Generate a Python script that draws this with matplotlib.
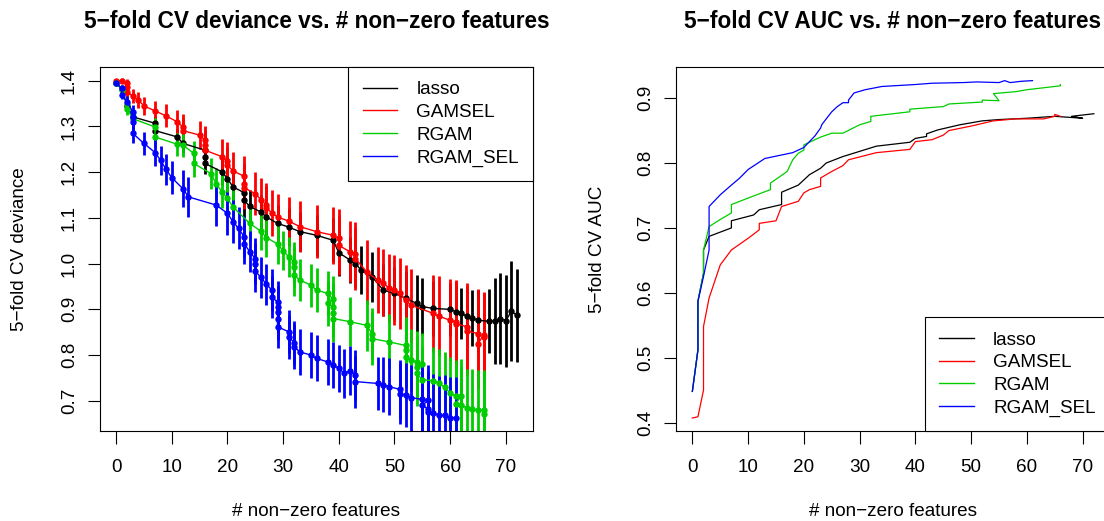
import matplotlib
matplotlib.use("Agg")
import matplotlib.pyplot as plt
from matplotlib.lines import Line2D

plt.rcParams['font.family'] = ['Liberation Sans', 'DejaVu Sans']

methods = ["lasso", "GAMSEL", "RGAM", "RGAM_SEL"]
colors = ["black", "#FF0000", "#00CD00", "#0000FF"]

# ---- 5-fold CV deviance (mean and sd) along the lambda path ----
lasso_nz = [0, 1, 2, 3, 7, 7, 11, 12, 16, 16, 16, 19, 20, 21, 23, 23, 24, 26, 27, 29,
            31, 33, 36, 39, 40, 42, 43, 44, 46, 48, 50, 52, 54, 55, 57, 60, 61, 62, 63,
            64, 65, 67, 68, 69, 70, 71, 72]
lasso_dev = [1.396, 1.382, 1.345, 1.321, 1.307, 1.291, 1.277, 1.263, 1.248, 1.234, 1.219,
             1.201, 1.186, 1.168, 1.155, 1.139, 1.125, 1.113, 1.102, 1.088, 1.080, 1.070,
             1.062, 1.051, 1.024, 1.008, 1.000, 0.986, 0.971, 0.942, 0.935, 0.924, 0.913,
             0.906, 0.902, 0.900, 0.895, 0.891, 0.885, 0.881, 0.876, 0.874, 0.875, 0.880,
             0.875, 0.896, 0.887]
lasso_sd = [0.004, 0.006, 0.010, 0.012, 0.015, 0.015, 0.018, 0.020, 0.022, 0.022, 0.023,
            0.030, 0.033, 0.034, 0.035, 0.036, 0.037, 0.038, 0.039, 0.040, 0.041, 0.042,
            0.045, 0.048, 0.050, 0.051, 0.052, 0.053, 0.055, 0.057, 0.058, 0.060, 0.062,
            0.063, 0.060, 0.058, 0.056, 0.055, 0.058, 0.062, 0.066, 0.070, 0.094, 0.100,
            0.100, 0.110, 0.102]

gamsel_nz = [0, 1, 2, 2, 2, 3, 4, 5, 7, 9, 11, 12, 12, 15, 16, 16, 16, 19, 20, 20, 21, 23,
             23, 23, 25, 26, 27, 27, 28, 29, 31, 33, 36, 39, 40, 40, 42, 43, 43, 45, 47,
             48, 49, 50, 51, 52, 53, 57, 58, 60, 61, 61, 63, 63, 65, 65, 66, 66]
gamsel_dev = [1.400, 1.400, 1.396, 1.387, 1.376, 1.366, 1.358, 1.345, 1.334, 1.323, 1.310,
              1.299, 1.291, 1.281, 1.270, 1.259, 1.248, 1.234, 1.225, 1.215, 1.203, 1.191,
              1.175, 1.166, 1.153, 1.140, 1.128, 1.121, 1.111, 1.102, 1.093, 1.081, 1.070,
              1.062, 1.055, 1.040, 1.026, 1.022, 1.011, 0.982, 0.964, 0.958, 0.946, 0.942,
              0.935, 0.920, 0.909, 0.891, 0.885, 0.876, 0.873, 0.869, 0.862, 0.853, 0.847,
              0.825, 0.844, 0.840]
gamsel_sd = [0.004, 0.005, 0.008, 0.010, 0.012, 0.015, 0.018, 0.020, 0.022, 0.025, 0.027,
             0.028, 0.028, 0.030, 0.032, 0.033, 0.034, 0.038, 0.040, 0.041, 0.042, 0.044,
             0.045, 0.046, 0.047, 0.048, 0.049, 0.049, 0.050, 0.051, 0.053, 0.055, 0.058,
             0.062, 0.064, 0.065, 0.067, 0.068, 0.068, 0.070, 0.072, 0.073, 0.074, 0.076,
             0.077, 0.078, 0.080, 0.085, 0.087, 0.090, 0.092, 0.093, 0.095, 0.097, 0.098,
             0.100, 0.095, 0.095]

rgam_nz = [0, 1, 2, 2, 3, 7, 7, 11, 12, 14, 14, 17, 18, 19, 20, 21, 24, 26, 27, 29, 30, 31,
           32, 32, 32, 33, 35, 36, 38, 39, 38, 39, 39, 39, 42, 45, 46, 46, 49, 52, 52, 52,
           53, 54, 55, 54, 54, 55, 57, 58, 59, 60, 61, 62, 61, 62, 63, 64, 65, 66, 66]
rgam_dev = [1.396, 1.380, 1.350, 1.339, 1.317, 1.299, 1.277, 1.261, 1.259, 1.241, 1.219,
            1.197, 1.175, 1.157, 1.143, 1.124, 1.088, 1.071, 1.057, 1.043, 1.028, 1.015,
            1.004, 0.993, 0.975, 0.964, 0.953, 0.942, 0.935, 0.922, 0.913, 0.906, 0.891,
            0.880, 0.873, 0.865, 0.847, 0.836, 0.829, 0.821, 0.811, 0.796, 0.789, 0.785,
            0.780, 0.774, 0.760, 0.746, 0.744, 0.738, 0.730, 0.717, 0.710, 0.710, 0.694,
            0.690, 0.685, 0.683, 0.679, 0.679, 0.672]
rgam_sd = [0.004, 0.008, 0.012, 0.013, 0.015, 0.020, 0.022, 0.025, 0.026, 0.028, 0.030,
           0.033, 0.035, 0.036, 0.037, 0.038, 0.040, 0.041, 0.042, 0.043, 0.043, 0.044,
           0.044, 0.045, 0.045, 0.046, 0.047, 0.048, 0.049, 0.050, 0.050, 0.051, 0.051,
           0.052, 0.053, 0.055, 0.057, 0.058, 0.060, 0.063, 0.064, 0.065, 0.067, 0.068,
           0.069, 0.070, 0.071, 0.072, 0.074, 0.075, 0.077, 0.079, 0.080, 0.081, 0.082,
           0.083, 0.085, 0.086, 0.088, 0.089, 0.090]

rgamsel_nz = [0, 1, 1, 2, 3, 3, 3, 3, 5, 7, 8, 9, 10, 12, 13, 18, 20, 21, 22, 23, 23, 24,
              25, 25, 25, 26, 27, 28, 28, 29, 29, 29, 29, 29, 31, 31, 32, 32, 33, 35, 36,
              38, 39, 40, 41, 42, 43, 43, 47, 48, 49, 51, 51, 52, 53, 55, 56, 55, 56, 56,
              57, 58, 59, 60, 61]
rgamsel_dev = [1.396, 1.383, 1.369, 1.354, 1.332, 1.321, 1.310, 1.285, 1.263, 1.243, 1.226,
               1.206, 1.188, 1.164, 1.146, 1.128, 1.110, 1.092, 1.077, 1.059, 1.044, 1.026,
               1.011, 1.000, 0.984, 0.970, 0.955, 0.942, 0.927, 0.916, 0.905, 0.895, 0.880,
               0.862, 0.851, 0.840, 0.827, 0.818, 0.807, 0.800, 0.793, 0.785, 0.778, 0.771,
               0.760, 0.766, 0.757, 0.742, 0.738, 0.735, 0.731, 0.725, 0.716, 0.712, 0.707,
               0.703, 0.701, 0.690, 0.683, 0.676, 0.674, 0.668, 0.668, 0.663, 0.663]
rgamsel_sd = [0.004, 0.008, 0.010, 0.012, 0.015, 0.017, 0.019, 0.022, 0.025, 0.030, 0.032,
              0.034, 0.036, 0.040, 0.044, 0.046, 0.047, 0.047, 0.046, 0.045, 0.045, 0.045,
              0.045, 0.045, 0.045, 0.045, 0.045, 0.046, 0.046, 0.046, 0.046, 0.046, 0.047,
              0.047, 0.047, 0.048, 0.048, 0.049, 0.050, 0.050, 0.050, 0.050, 0.051, 0.052,
              0.053, 0.054, 0.055, 0.057, 0.058, 0.060, 0.062, 0.065, 0.067, 0.070, 0.072,
              0.075, 0.077, 0.080, 0.082, 0.083, 0.085, 0.087, 0.088, 0.090, 0.090]

# ---- 5-fold CV AUC along the lambda path ----
lasso_auc_nz = [0, 1, 1, 2, 2, 3, 7, 7, 11, 12, 16, 16, 19, 21, 23, 24, 27, 33, 39, 40, 42,
                42, 44, 48, 52, 55, 60, 65, 70, 68, 70, 72]
lasso_auc = [0.448, 0.512, 0.587, 0.630, 0.666, 0.687, 0.700, 0.711, 0.720, 0.728, 0.736,
             0.755, 0.766, 0.782, 0.792, 0.800, 0.810, 0.826, 0.832, 0.838, 0.841, 0.845,
             0.851, 0.859, 0.865, 0.867, 0.869, 0.872, 0.869, 0.872, 0.874, 0.876]

gamsel_auc_nz = [0, 1, 2, 2, 3, 5, 7, 10, 12, 12, 15, 16, 19, 20, 21, 23, 23, 25, 27, 28,
                 33, 39, 40, 43, 45, 46, 50, 54, 58, 63, 65, 65, 66]
gamsel_auc = [0.407, 0.409, 0.450, 0.548, 0.592, 0.643, 0.666, 0.684, 0.697, 0.707, 0.711,
              0.733, 0.741, 0.754, 0.759, 0.764, 0.777, 0.787, 0.796, 0.805, 0.816, 0.821,
              0.833, 0.836, 0.843, 0.850, 0.857, 0.865, 0.868, 0.868, 0.872, 0.875, 0.872]

rgam_auc_nz = [0, 1, 1, 2, 2, 3, 5, 7, 7, 10, 14, 14, 17, 18, 19, 20, 20, 23, 25, 27, 30,
               32, 32, 39, 39, 45, 46, 52, 52, 55, 54, 58, 60, 62, 66, 66]
rgam_auc = [0.448, 0.512, 0.587, 0.630, 0.666, 0.702, 0.713, 0.723, 0.736, 0.746, 0.759,
            0.769, 0.787, 0.805, 0.815, 0.820, 0.828, 0.840, 0.846, 0.846, 0.859, 0.864,
            0.872, 0.879, 0.883, 0.887, 0.891, 0.894, 0.897, 0.896, 0.907, 0.910, 0.913,
            0.915, 0.919, 0.921]

rgamsel_auc_nz = [0, 1, 1, 2, 3, 3, 5, 7, 8.5, 10, 13, 18, 20, 21, 22, 23, 23.2, 24, 25, 26,
                  27, 28, 28, 29, 31, 34, 40, 43, 48.6, 51, 55, 56, 57, 59, 61]
rgamsel_auc = [0.448, 0.512, 0.587, 0.625, 0.666, 0.733, 0.751, 0.766, 0.777, 0.790, 0.807,
               0.816, 0.824, 0.833, 0.842, 0.854, 0.859, 0.868, 0.879, 0.887, 0.893, 0.893,
               0.897, 0.908, 0.913, 0.918, 0.921, 0.923, 0.924, 0.925, 0.924, 0.927, 0.924,
               0.926, 0.927]

dev_series = [(lasso_nz, lasso_dev, lasso_sd), (gamsel_nz, gamsel_dev, gamsel_sd),
              (rgam_nz, rgam_dev, rgam_sd), (rgamsel_nz, rgamsel_dev, rgamsel_sd)]
auc_series = [(lasso_auc_nz, lasso_auc), (gamsel_auc_nz, gamsel_auc),
              (rgam_auc_nz, rgam_auc), (rgamsel_auc_nz, rgamsel_auc)]

FS = 13.6
W, H = 1104, 521
fig = plt.figure(figsize=(W / 100, H / 100), dpi=100)
ax1 = fig.add_axes([100 / W, 1 - 431 / H, 433 / W, 364 / H])
ax2 = fig.add_axes([676.3 / W, 1 - 431 / H, 433.6 / W, 364 / H])

for (x, y, sd), c in zip(dev_series, colors):
    ax1.errorbar(x, y, yerr=sd, fmt='o-', color=c, ms=3.6, lw=1.0,
                 elinewidth=2.0, capsize=0)

for (x, y), c in zip(auc_series, colors):
    ax2.plot(x, y, color=c, lw=0.9)

for ax in (ax1, ax2):
    ax.set_xlim(-2.88, 74.88)
    ax.set_xticks(range(0, 80, 10))
    ax.tick_params(direction='out', length=9, width=0.8, labelsize=FS)
    ax.tick_params(axis='x', pad=11)
    ax.tick_params(axis='y', pad=7)
    for s in ax.spines.values():
        s.set_linewidth(0.8)

ax1.set_ylim(0.634, 1.43)
ticks1 = [0.7, 0.8, 0.9, 1.0, 1.1, 1.2, 1.3, 1.4]
ax1.set_yticks(ticks1)
ax1.set_yticklabels([f"{t:.1f}" for t in ticks1], rotation=90, va='center')

ax2.set_ylim(0.387, 0.948)
ticks2 = [0.4, 0.5, 0.6, 0.7, 0.8, 0.9]
ax2.set_yticks(ticks2)
ax2.set_yticklabels([f"{t:.1f}" for t in ticks2], rotation=90, va='center')

handles = [Line2D([], [], color=c, lw=1.0) for c in colors]
leg_kw = dict(borderaxespad=0, fancybox=False, edgecolor='black', framealpha=1,
              fontsize=FS, handlelength=1.85, handletextpad=1.0, borderpad=0.75,
              labelspacing=0.29)
leg1 = ax1.legend(handles, methods, loc='upper right', **leg_kw)
leg2 = ax2.legend(handles, methods, loc='lower right', **leg_kw)
for leg in (leg1, leg2):
    leg.get_frame().set_linewidth(0.8)

# titles and axis labels
fig.text(316.5 / W, 1 - 22 / H, "5−fold CV deviance vs. # non−zero features",
         fontsize=16.3, fontweight='bold', ha='center', va='center')
fig.text(893 / W, 1 - 22 / H, "5−fold CV AUC vs. # non−zero features",
         fontsize=16.3, fontweight='bold', ha='center', va='center')
fig.text(316.5 / W, 1 - 512 / H, "# non−zero features", fontsize=FS, ha='center', va='center')
fig.text(893 / W, 1 - 512 / H, "# non−zero features", fontsize=FS, ha='center', va='center')
fig.text(20 / W, 1 - 249 / H, "5−fold CV deviance", fontsize=FS, rotation=90,
         ha='center', va='center')
fig.text(598 / W, 1 - 249 / H, "5−fold CV AUC", fontsize=FS, rotation=90,
         ha='center', va='center')

fig.savefig("out.png", dpi=100)
